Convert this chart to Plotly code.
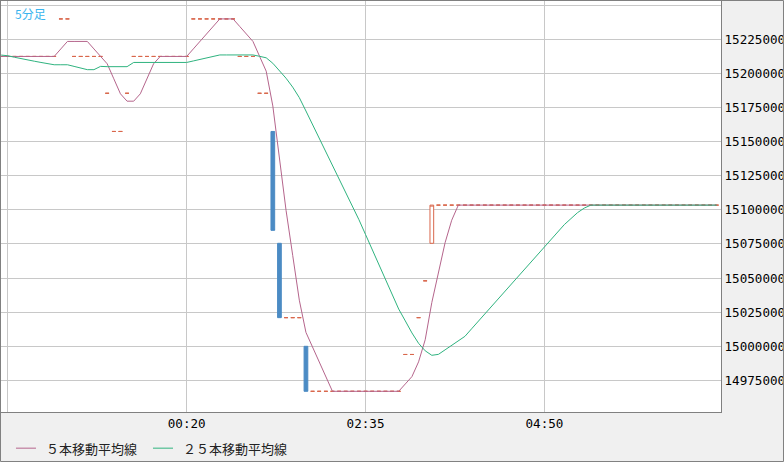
import pandas as pd
import plotly.graph_objects as go

# 5-minute bars, 22:00 - 07:00
open_ = [
    15212500, 15212500, 15212500, 15212500, 15212500, 15212500, 15212500, 15212500, 15212500, 15240000,
    15240000, 15212500, 15212500, 15212500, 15212500, 15212500, 15185500, 15157500, 15157500, 15185500,
    15212500, 15212500, 15212500, 15212500, 15212500, 15212500, 15212500, 15212500, 15212500, 15240000,
    15240000, 15240000, 15240000, 15240000, 15240000, 15240000, 15212500, 15212500, 15212500, 15185500,
    15185500, 15157500, 15075500, 15021000, 15021000, 15021000, 15000000, 14967000, 14967000, 14967000,
    14967000, 14967000, 14967000, 14967000, 14967000, 14967000, 14967000, 14967000, 14967000, 14967000,
    14967000, 14994000, 14994000, 15021000, 15048000, 15075500, 15103500, 15103500, 15103500, 15103500,
    15103500, 15103500, 15103500, 15103500, 15103500, 15103500, 15103500, 15103500, 15103500, 15103500,
    15103500, 15103500, 15103500, 15103500, 15103500, 15103500, 15103500, 15103500, 15103500, 15103500,
    15103500, 15103500, 15103500, 15103500, 15103500, 15103500, 15103500, 15103500, 15103500, 15103500,
    15103500, 15103500, 15103500, 15103500, 15103500, 15103500, 15103500, 15103500, 15103500,
]
close_ = [
    15212500, 15212500, 15212500, 15212500, 15212500, 15212500, 15212500, 15212500, 15212500, 15240000,
    15240000, 15212500, 15212500, 15212500, 15212500, 15212500, 15185500, 15157500, 15157500, 15185500,
    15212500, 15212500, 15212500, 15212500, 15212500, 15212500, 15212500, 15212500, 15212500, 15240000,
    15240000, 15240000, 15240000, 15240000, 15240000, 15240000, 15212500, 15212500, 15212500, 15185500,
    15185500, 15085000, 15021000, 15021000, 15021000, 15021000, 14967000, 14967000, 14967000, 14967000,
    14967000, 14967000, 14967000, 14967000, 14967000, 14967000, 14967000, 14967000, 14967000, 14967000,
    14967000, 14994000, 14994000, 15021000, 15048000, 15103500, 15103500, 15103500, 15103500, 15103500,
    15103500, 15103500, 15103500, 15103500, 15103500, 15103500, 15103500, 15103500, 15103500, 15103500,
    15103500, 15103500, 15103500, 15103500, 15103500, 15103500, 15103500, 15103500, 15103500, 15103500,
    15103500, 15103500, 15103500, 15103500, 15103500, 15103500, 15103500, 15103500, 15103500, 15103500,
    15103500, 15103500, 15103500, 15103500, 15103500, 15103500, 15103500, 15103500, 15103500,
]
ma5 = [
    15212500, 15212500, 15212500, 15212500, 15212500, 15212500, 15212500, 15212500, 15212500, 15218000,
    15223500, 15223500, 15223500, 15223500, 15218000, 15212500, 15207100, 15196100, 15185100, 15179700,
    15179700, 15185100, 15196100, 15207100, 15212500, 15212500, 15212500, 15212500, 15212500, 15218000,
    15223500, 15229000, 15234500, 15240000, 15240000, 15240000, 15234500, 15229000, 15223500, 15212600,
    15201700, 15176200, 15137900, 15099600, 15066700, 15033800, 15010200, 14999400, 14988600, 14977800,
    14967000, 14967000, 14967000, 14967000, 14967000, 14967000, 14967000, 14967000, 14967000, 14967000,
    14967000, 14972400, 14977800, 14988600, 15004800, 15032100, 15054000, 15075900, 15092400, 15103500,
    15103500, 15103500, 15103500, 15103500, 15103500, 15103500, 15103500, 15103500, 15103500, 15103500,
    15103500, 15103500, 15103500, 15103500, 15103500, 15103500, 15103500, 15103500, 15103500, 15103500,
    15103500, 15103500, 15103500, 15103500, 15103500, 15103500, 15103500, 15103500, 15103500, 15103500,
    15103500, 15103500, 15103500, 15103500, 15103500, 15103500, 15103500, 15103500, 15103500,
]
ma25 = [
    15213500, 15213000, 15211900, 15210800, 15209900, 15209000, 15208100, 15207200, 15206400, 15206400,
    15206400, 15205200, 15203900, 15202800, 15202800, 15205200, 15205000, 15205000, 15205000, 15205000,
    15208100, 15208100, 15208100, 15208100, 15208100, 15208100, 15208100, 15208100, 15208100, 15209200,
    15210300, 15211400, 15212500, 15213600, 15213600, 15213600, 15213600, 15213600, 15213600, 15212600,
    15211500, 15207500, 15202000, 15196500, 15190000, 15182300, 15172500, 15162700, 15152800, 15143000,
    15133200, 15123400, 15113600, 15103700, 15092800, 15081900, 15071000, 15060100, 15049100, 15038200,
    15027300, 15018600, 15009800, 15002200, 14996700, 14993400, 14994100, 14997400, 15000700, 15004000,
    15007300, 15012800, 15018200, 15023700, 15029200, 15034600, 15040100, 15045500, 15051000, 15056500,
    15061900, 15067400, 15072800, 15078300, 15083800, 15089200, 15093600, 15098000, 15101300, 15103500,
    15103500, 15103500, 15103500, 15103500, 15103500, 15103500, 15103500, 15103500, 15103500, 15103500,
    15103500, 15103500, 15103500, 15103500, 15103500, 15103500, 15103500, 15103500, 15103500,
]

x_ticks = ["22:05", "00:20", "02:35", "04:50"]
x_labels = ["", "00:20", "02:35", "04:50"]
y_ticks = [14975000, 15000000, 15025000, 15050000, 15075000, 15100000,
           15125000, 15150000, 15175000, 15200000, 15225000, 15250000]
y_labels = ["14975000", "15000000", "15025000", "15050000", "15075000", "15100000",
            "15125000", "15150000", "15175000", "15200000", "15225000", ""]

times = pd.date_range("2024-01-01 22:00", periods=len(close_), freq="5min").strftime("%H:%M").tolist()

df = pd.DataFrame({"t": times, "o": open_, "c": close_})
df["h"] = df[["o", "c"]].max(axis=1)
df["l"] = df[["o", "c"]].min(axis=1)
down = df[df["c"] < df["o"]]
rest = df[df["c"] >= df["o"]]

UP = "#d9674c"
DOWN = "#4b8bc4"
C5 = "#b5658c"
C25 = "#2fb37f"

fig = go.Figure()
fig.add_trace(go.Candlestick(
    x=rest["t"], open=rest["o"], high=rest["h"], low=rest["l"], close=rest["c"],
    increasing=dict(line=dict(color=UP, width=1), fillcolor="white"),
    decreasing=dict(line=dict(color=UP, width=1), fillcolor="white"),
    whiskerwidth=0, hoverinfo="skip"))
fig.add_trace(go.Candlestick(
    x=down["t"], open=down["o"], high=down["h"], low=down["l"], close=down["c"],
    increasing=dict(line=dict(color=DOWN, width=1), fillcolor=DOWN),
    decreasing=dict(line=dict(color=DOWN, width=1), fillcolor=DOWN),
    whiskerwidth=0, hoverinfo="skip"))
fig.add_trace(go.Scatter(x=times, y=ma5, mode="lines", line=dict(color=C5, width=1),
                         name="５本移動平均線"))
fig.add_trace(go.Scatter(x=times, y=ma25, mode="lines", line=dict(color=C25, width=1),
                         name="２５本移動平均線"))

# title and legend drawn in paper coords
fig.add_annotation(text="5分足", xref="paper", yref="paper", x=0.017, y=0.996,
                   xanchor="left", yanchor="top", showarrow=False,
                   font=dict(family="Noto Sans CJK JP", size=12, color="#3ab4ee"))
leg_y = -0.088
for x0, x1, col, name in [(0.0208, 0.0486, C5, "５本移動平均線"),
                          (0.2111, 0.2389, C25, "２５本移動平均線")]:
    fig.add_shape(type="line", xref="paper", yref="paper", x0=x0, x1=x1, y0=leg_y, y1=leg_y,
                  line=dict(color=col, width=1))
    fig.add_annotation(text=name, xref="paper", yref="paper", x=x1 + 0.0112, y=leg_y,
                       xanchor="left", yanchor="middle", showarrow=False,
                       font=dict(family="Noto Sans CJK JP", size=13, color="#222222"))
# outer frame
fig.add_shape(type="rect", xref="paper", yref="paper", x0=-0.0007, x1=1.0868, y0=-0.1204, y1=1.0012,
              line=dict(color="#808080", width=1))

fig.update_layout(
    width=784, height=462,
    margin=dict(l=1, r=63, t=1, b=50, autoexpand=False),
    paper_bgcolor="#f0f0f0", plot_bgcolor="white",
    showlegend=False, boxgap=0.2,
    xaxis=dict(type="category", categoryorder="array", categoryarray=times,
               range=[-0.03, 108.65], tickvals=x_ticks, ticktext=x_labels, automargin=False,
               showgrid=True, gridcolor="#c8c8c8", gridwidth=1, ticks="",
               showline=True, mirror=True, linecolor="#808080", linewidth=1,
               rangeslider=dict(visible=False),
               tickfont=dict(family="DejaVu Sans Mono", size=12.6, color="black")),
    yaxis=dict(side="right", range=[14951834, 15253140], tickvals=y_ticks, ticktext=y_labels,
               automargin=False,
               showgrid=True, gridcolor="#c8c8c8", gridwidth=1, ticks="", zeroline=False,
               showline=True, mirror=True, linecolor="#808080", linewidth=1,
               tickfont=dict(family="DejaVu Sans Mono", size=12.6, color="black")),
)

# page body margin would shift the chart by 8px
fig.write_html("out.html", config={"displayModeBar": False},
               post_script="document.body.style.margin = '0';")
